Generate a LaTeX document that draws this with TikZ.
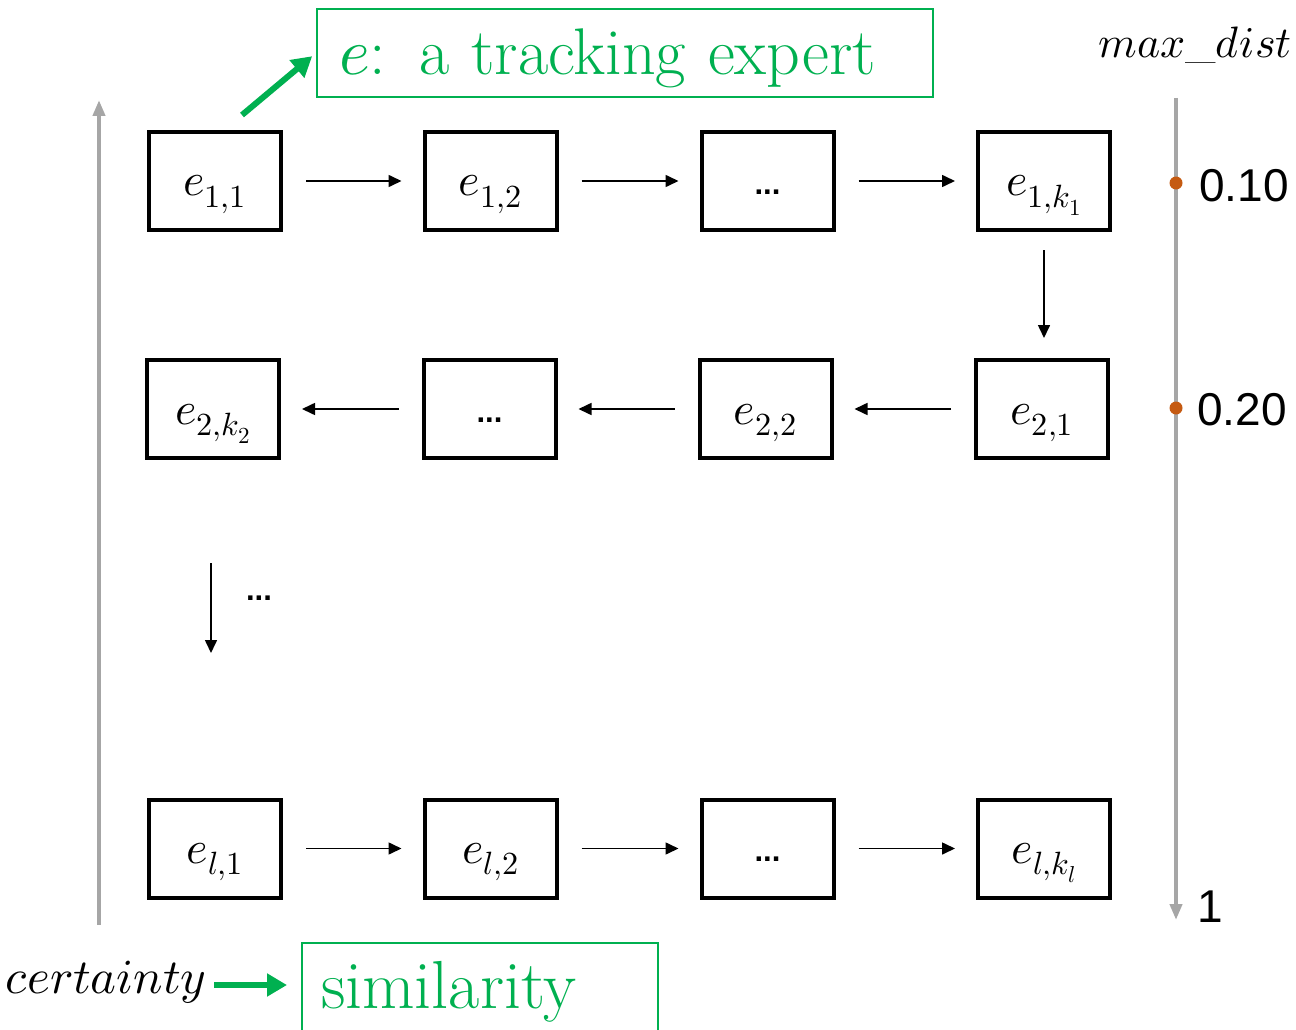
\documentclass[tikz,border=0pt]{standalone}
\usepackage{fontspec}
\usepackage{unicode-math}
\newfontfamily\arialf{Liberation Sans}
\usetikzlibrary{arrows.meta}
\definecolor{xgreen}{HTML}{00B050}
\definecolor{xgray}{HTML}{A6A6A6}
\definecolor{xorange}{HTML}{C55A11}
\tikzset{
  ebox/.style={draw=black, line width=4pt, minimum width=132pt, minimum height=98pt,
    inner sep=0pt, text height=30pt, text depth=0pt, font=\fontsize{46}{50}\selectfont},
  dbox/.style={ebox, text height=26pt, font=\arialf\bfseries\fontsize{31}{34}\selectfont},
  flow/.style={line width=1.6pt, -{Triangle[length=13pt,width=12pt]},
    shorten <=23pt, shorten >=21pt},
  grayaxis/.style={draw=xgray, line width=4pt, -{Triangle[length=16pt,width=12pt]}},
  garrow/.style={draw=xgreen, line width=6pt, -{Triangle[length=20pt,width=22pt]}},
  gbox/.style={draw=xgreen, line width=2pt, text=xgreen, inner ysep=0pt, align=left},
  tick/.style={circle, fill=xorange, inner sep=0pt, minimum size=13pt},
  ticklab/.style={inner sep=0pt, font=\arialf\fontsize{46}{50}\selectfont}
}
\begin{document}
\begin{tikzpicture}[x=1pt,y=-1pt]
\useasboundingbox (0,0) rectangle (1296,1030);

% gray axes
\coordinate (lb) at (99,925);
\coordinate (lt) at (99,100);
\draw[grayaxis] (lb) -- (lt);
\coordinate (rt) at (1176,98);
\coordinate (rb) at (1176,920);
\draw[grayaxis] (rt) -- (rb);

% row 1
\node[ebox] (e11) at (215,181) {$e_{1,1}$};
\node[ebox] (e12) at (490.5,181) {$e_{1,2}$};
\node[dbox] (e13) at (767.5,181) {...};
\node[ebox] (e14) at (1044,181) {$e_{1,k_1}$};
% row 2
\node[ebox] (e21) at (1042,409) {$e_{2,1}$};
\node[ebox] (e22) at (765.5,409) {$e_{2,2}$};
\node[dbox] (e23) at (489.5,409) {...};
\node[ebox] (e24) at (213,409) {$e_{2,k_2}$};
% row l
\node[ebox] (el1) at (215,848.5) {$e_{l,1}$};
\node[ebox] (el2) at (490.5,848.5) {$e_{l,2}$};
\node[dbox] (el3) at (767.5,848.5) {...};
\node[ebox] (el4) at (1044,848.5) {$e_{l,k_l}$};

\draw[flow] (e11) -- (e12);
\draw[flow] (e12) -- (e13);
\draw[flow] (e13) -- (e14);
\draw[flow, shorten <=18pt, shorten >=20pt] (e14.south) -- (e14.south |- e21.north);
\draw[flow] (e21) -- (e22);
\draw[flow] (e22) -- (e23);
\draw[flow] (e23) -- (e24);
\draw[flow] (el1) -- (el2);
\draw[flow] (el2) -- (el3);
\draw[flow] (el3) -- (el4);

% vertical continuation
\coordinate (dd1) at (211,563);
\coordinate (dd2) at (211,653);
\draw[flow, shorten <=0pt, shorten >=0pt] (dd1) -- (dd2);
\node[inner sep=0pt, font=\arialf\bfseries\fontsize{31}{34}\selectfont] (vdots) at (259,598) {...};

% right axis ticks
\node[tick] (d1) at (1176,183) {};
\node[tick] (d2) at (1176,408) {};
\node[ticklab, anchor=west] (lab1) at (1199,186) {0.10};
\node[ticklab, anchor=west] (lab2) at (1197,410) {0.20};
\node[ticklab] (lab3) at (1210,907) {1};
\node[inner sep=0pt, font=\fontsize{44}{48}\selectfont] (maxd) at (1195,45) {$max\_dist$};

% expert annotation
\node[gbox, inner xsep=22pt, text width=572pt, minimum height=88pt, text height=44pt, text depth=0pt,
  font=\fontsize{66}{70}\selectfont] (expert) at (625,53) {$e$: a tracking expert};
\coordinate (gstart) at (242,115);
\draw[garrow, shorten >=5pt] (gstart) -- (expert.west);

% certainty -> similarity
\node[inner sep=0pt, text height=16pt, text depth=0pt, anchor=west,
  font=\fontsize{49}{52}\selectfont] (cert) at (5,985) {$certainty$};
\node[gbox, anchor=north west, inner xsep=19pt, text width=318pt, minimum height=140pt,
  text height=30pt, text depth=40pt, font=\fontsize{68}{72}\selectfont] (sim) at (301,942) {similarity};
\draw[garrow, shorten <=8pt, shorten >=14pt] (cert.east) -- (cert.east -| sim.west);
\end{tikzpicture}
\end{document}
